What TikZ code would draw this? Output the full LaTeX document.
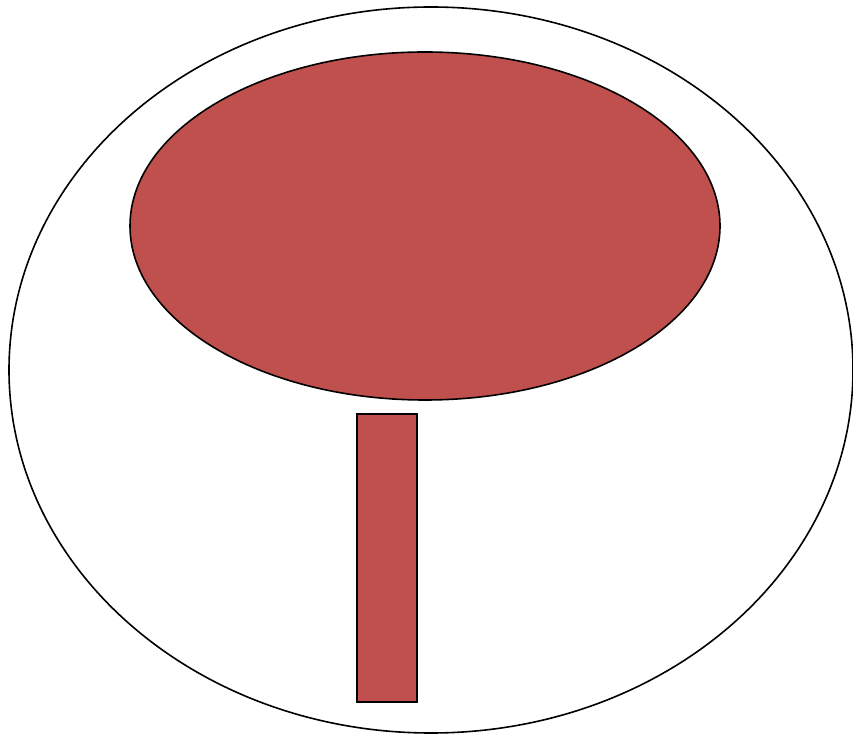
\documentclass[tikz,border=0pt]{standalone}
\definecolor{redfill}{HTML}{C0504D}
\begin{document}
\begin{tikzpicture}[x=1pt,y=1pt,line width=1.6pt]
\useasboundingbox (0,0) rectangle (853,736);
\draw[black] (431,366) ellipse [x radius=422, y radius=363];
\draw[black,fill=redfill] (425,510) ellipse [x radius=295, y radius=174];
\draw[black,fill=redfill] (357,34) rectangle (417,322);
\end{tikzpicture}
\end{document}
